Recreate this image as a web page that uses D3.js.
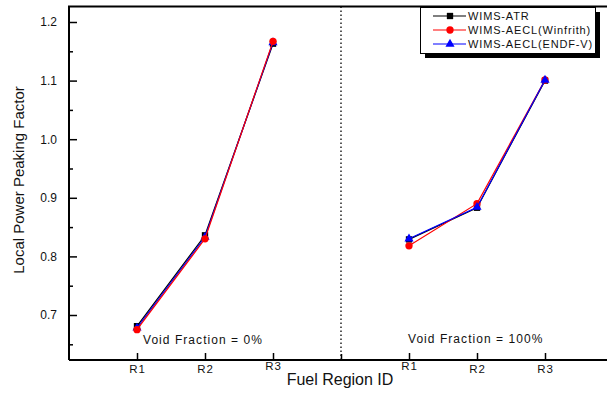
<!DOCTYPE html>
<html><head><meta charset="utf-8">
<script src="https://cdn.jsdelivr.net/npm/d3@7"></script>
<style>
html,body{margin:0;padding:0;background:#fff;}
svg{display:block;font-family:"Liberation Sans",Arial,sans-serif;}
</style></head>
<body><svg id="c" width="607" height="396"></svg>
<script>
const positionsLeft = [1, 2, 3];
const positionsRight = [5, 6, 7];
const tickLabels = ["R1", "R2", "R3", "R1", "R2", "R3"];
const tickPositions = [1, 2, 3, 5, 6, 7];
const yTicks = [0.7, 0.8, 0.9, 1.0, 1.1, 1.2];
const yMinorTicks = [0.65, 0.75, 0.85, 0.95, 1.05, 1.15];
const seriesNames = ["WIMS-ATR", "WIMS-AECL(Winfrith)", "WIMS-AECL(ENDF-V)"];
const atrVoid0 = [0.681, 0.836, 1.163];
const atrVoid100 = [0.829, 0.883, 1.100];
const winfrithVoid0 = [0.675, 0.830, 1.167];
const winfrithVoid100 = [0.818, 0.890, 1.101];
const endfVoid0 = [0.678, 0.833, 1.165];
const endfVoid100 = [0.830, 0.884, 1.101];
const groupLabels = ["Void Fraction = 0%", "Void Fraction = 100%"];

const svg = d3.select("#c");
const x = d3.scaleLinear().domain([0, 8]).range([69, 613]);
const y = d3.scaleLinear().domain([0.7, 1.2]).range([315, 22]);
const yTop = 6.5, yBottom = 360;

// dotted divider
svg.append("line").attr("x1", x(4)).attr("x2", x(4)).attr("y1", yTop).attr("y2", yBottom)
  .attr("stroke", "#000").attr("stroke-width", 1.3).attr("stroke-dasharray", "1.5,2.5");

// y axis ticks (inward)
const yAxis = d3.axisRight(y).tickValues(yTicks).tickSize(8).tickFormat("");
const gy = svg.append("g").attr("transform", `translate(${x(0)},0)`).call(yAxis);
gy.select(".domain").remove();
gy.selectAll("line").attr("stroke-width", 1.5);
const yAxisMinor = d3.axisRight(y).tickValues(yMinorTicks).tickSize(4).tickFormat("");
const gym = svg.append("g").attr("transform", `translate(${x(0)},0)`).call(yAxisMinor);
gym.select(".domain").remove();
gym.selectAll("line").attr("stroke-width", 1.5);
svg.append("g").selectAll("text").data(yTicks).join("text")
  .attr("x", 57).attr("y", d => y(d)).attr("dy", "0.36em").attr("text-anchor", "end")
  .attr("font-size", 12).attr("fill", "#111").text(d => d.toFixed(1));

// x axis ticks (inward)
const xAxis = d3.axisTop(x).tickValues(tickPositions).tickSize(7).tickFormat("");
const gx = svg.append("g").attr("transform", `translate(0,${yBottom})`).call(xAxis);
gx.select(".domain").remove();
gx.selectAll("line").attr("stroke-width", 1.5);
const xMid = d3.axisTop(x).tickValues([4]).tickSize(6).tickFormat("");
const gxm = svg.append("g").attr("transform", `translate(0,${yBottom})`).call(xMid);
gxm.select(".domain").remove();
gxm.selectAll("line").attr("stroke-width", 1.5);
svg.append("g").selectAll("text").data(tickPositions).join("text")
  .attr("x", d => x(d) + 0.5).attr("y", (d, i) => (i === 2 || i === 3) ? 370 : 373)
  .attr("text-anchor", "middle").attr("font-size", 11.5).attr("letter-spacing", 1)
  .attr("fill", "#111").text((d, i) => tickLabels[i]);

// frame
svg.append("path").attr("d", `M${x(0)},${yBottom}V${yTop}H607`).attr("fill", "none")
  .attr("stroke", "#000").attr("stroke-width", 2);
svg.append("line").attr("x1", x(0)).attr("x2", 607).attr("y1", yBottom).attr("y2", yBottom)
  .attr("stroke", "#000").attr("stroke-width", 2);

// axis titles
svg.append("text").attr("x", 340).attr("y", 385).attr("text-anchor", "middle")
  .attr("font-size", 16).attr("fill", "#111").text("Fuel Region ID");
svg.append("text").attr("transform", "translate(24,180) rotate(-90)").attr("text-anchor", "middle")
  .attr("font-size", 15).attr("fill", "#111").text("Local Power Peaking Factor");

// group labels
svg.append("text").attr("x", 143).attr("y", 344).attr("font-size", 12).attr("letter-spacing", 1.05)
  .attr("fill", "#111").text(groupLabels[0]);
svg.append("text").attr("x", 408).attr("y", 343).attr("font-size", 12).attr("letter-spacing", 1.05)
  .attr("fill", "#111").text(groupLabels[1]);

// series
const series = [
  {name: seriesNames[0], color: "#000000", marker: "square", v0: atrVoid0, v1: atrVoid100},
  {name: seriesNames[1], color: "#ff0000", marker: "circle", v0: winfrithVoid0, v1: winfrithVoid100},
  {name: seriesNames[2], color: "#0000ff", marker: "triangle", v0: endfVoid0, v1: endfVoid100}
];
const symType = {square: d3.symbolSquare, circle: d3.symbolCircle, triangle: d3.symbolTriangle};
const symSize = {square: 40, circle: 42, triangle: 36};
const line = d3.line().x(d => x(d[0])).y(d => y(d[1]));
function drawMarker(g, m, cx, cy, color) {
  g.append("path").attr("d", d3.symbol().type(symType[m]).size(symSize[m])())
    .attr("transform", `translate(${cx},${cy})`).attr("fill", color);
}
function drawGroup(order, pos, key) {
  order.forEach(si => {
    const s = series[si];
    const vals = s[key];
    const pts = pos.map((p, i) => [p, vals[i]]);
    const g = svg.append("g");
    g.append("path").attr("d", line(pts)).attr("fill", "none").attr("stroke", s.color).attr("stroke-width", 1.2);
    pts.forEach(p => drawMarker(g, s.marker, x(p[0]), y(p[1]), s.color));
  });
}
drawGroup([0, 2, 1], positionsLeft, "v0");
drawGroup([0, 1, 2], positionsRight, "v1");

// legend
const lg = svg.append("g");
lg.append("rect").attr("x", 425).attr("y", 12).attr("width", 175).attr("height", 46).attr("fill", "#000");
lg.append("rect").attr("x", 420.5).attr("y", 7.5).attr("width", 175).attr("height", 46)
  .attr("fill", "#fff").attr("stroke", "#000").attr("stroke-width", 1);
const rowY = [16, 30, 44];
series.forEach((s, i) => {
  lg.append("line").attr("x1", 433).attr("x2", 466).attr("y1", rowY[i]).attr("y2", rowY[i])
    .attr("stroke", s.color).attr("stroke-width", 1.2);
  drawMarker(lg, s.marker, 450, rowY[i], s.color);
  lg.append("text").attr("x", 468).attr("y", rowY[i]).attr("dy", "0.36em")
    .attr("font-size", 11).attr("letter-spacing", 0.85).attr("fill", "#111").text(s.name);
});
</script></body></html>
